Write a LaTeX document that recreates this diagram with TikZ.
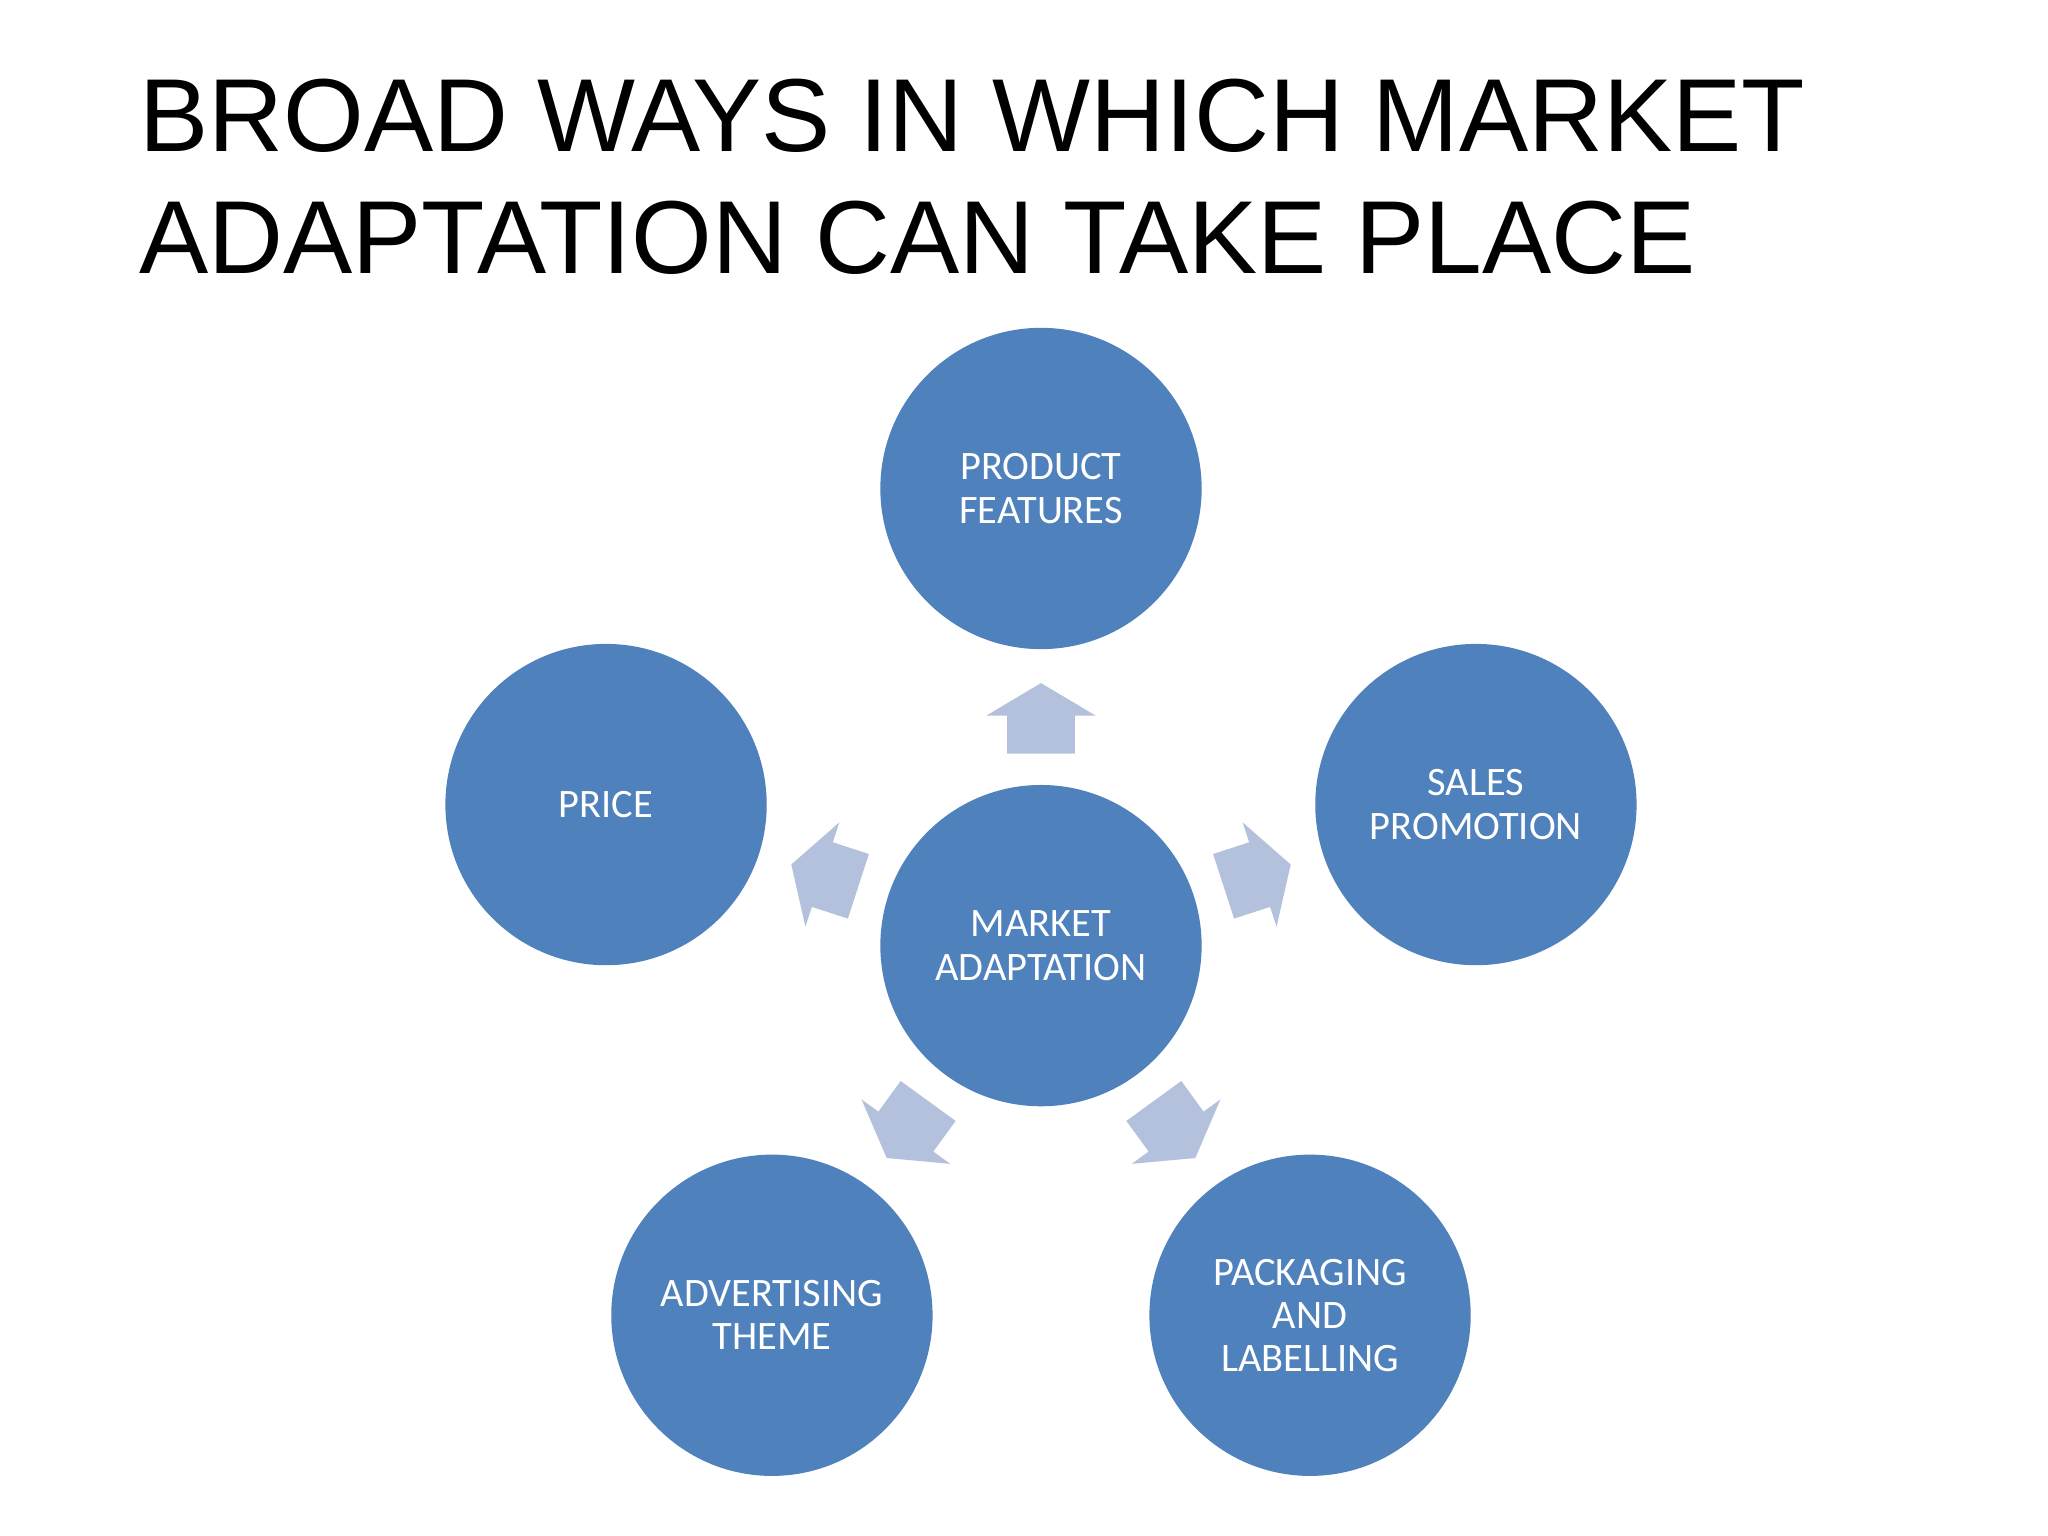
\documentclass[tikz,border=0pt]{standalone}
\usepackage{fontspec}
\setmainfont{Carlito}
\newfontfamily\titlefont{Liberation Sans}
\begin{document}
\begin{tikzpicture}[x=1cm,y=-1cm,
  bub/.style={circle,fill=blue1,minimum size=2.46cm,inner sep=0pt,text=white,align=center,font=\fontsize{8.8}{9.4}\selectfont},
  blk/.style={fill=arrowc}]
\definecolor{blue1}{HTML}{4F81BD}
\definecolor{arrowc}{HTML}{B4C1DD}
\useasboundingbox (0,0) rectangle (15.68,11.76);
\fill[white] (0,0) rectangle (15.68,11.76);
\node[anchor=north west,inner sep=0pt,align=left,font=\titlefont\fontsize{22.6}{26.5}\selectfont] (title) at (1.06,0.6) {BROAD WAYS IN WHICH MARKET\\ADAPTATION CAN TAKE PLACE};
\node[bub] (c) at (7.97,7.24) {MARKET\\ADAPTATION};
\node[bub] (pf) at (7.97,3.74) {PRODUCT\\FEATURES};
\node[bub] (pr) at (4.64,6.16) {PRICE};
\node[bub] (sp) at (11.30,6.16) {SALES\\PROMOTION};
\node[bub] (ad) at (5.91,10.07) {ADVERTISING\\THEME};
\node[bub] (pk) at (10.03,10.07) {PACKAGING\\AND\\LABELLING};
\foreach \a in {90,18,162,-54,-126}{
  \begin{scope}[shift={(c.center)},rotate=\a,shift={(1.74,0)}]
    \fill[blk] (-0.27,-0.26) -- (0.02,-0.26) -- (0.02,-0.42) -- (0.27,0) -- (0.02,0.42) -- (0.02,0.26) -- (-0.27,0.26) -- cycle;
  \end{scope}}
\end{tikzpicture}
\end{document}
